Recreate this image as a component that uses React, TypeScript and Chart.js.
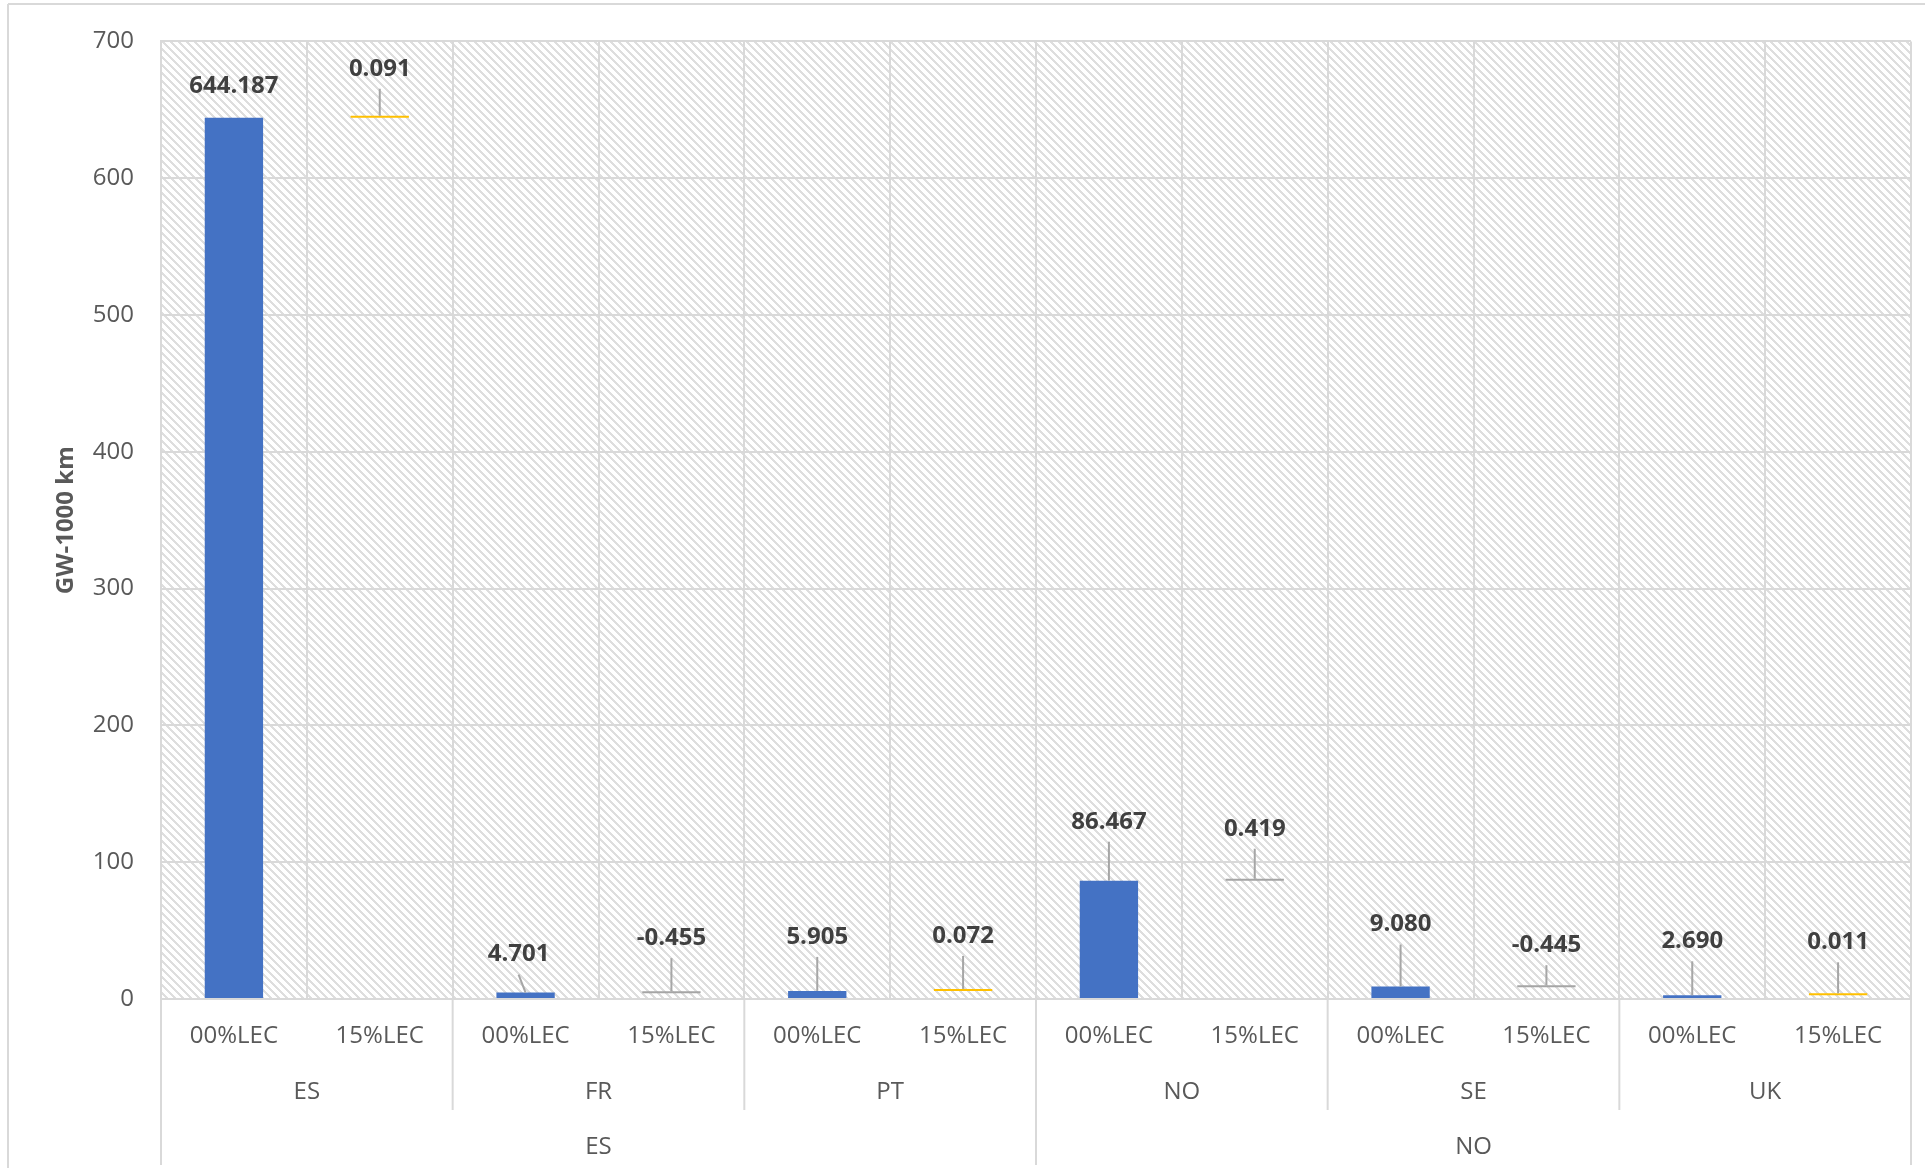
import React, { useEffect, useRef } from 'react';
import { Chart, registerables } from 'chart.js';

Chart.register(...registerables);

// ---- data ----
const scenarios = ['00%LEC', '15%LEC'];
const countries = ['ES', 'FR', 'PT', 'NO', 'SE', 'UK'];
const groups = ['ES', 'NO'];
const countriesPerGroup = [3, 3];
const lec00 = [644.187, 4.701, 5.905, 86.467, 9.08, 2.69];
const lec15Delta = [0.091, -0.455, 0.072, 0.419, -0.445, 0.011];
const yMin = 0;
const yMax = 700;
const yStep = 100;
const yTitle = 'GW-1000 km';

// styling of the 15%LEC delta marks as seen in the picture
const deltaColors = ['#FFC000', '#A5A5A5', '#FFC000', '#A5A5A5', '#A5A5A5', '#FFC000'];

// label placement (pixels above the bar top), per leaf
const labelLift = [32, 47, 38, 53, 54, 53, 59, 50, 62, 40, 54, 51];
const labelShiftX = [0, 0, -7, 0, 0, 0, 0, 0, 0, 0, 0, 0];

const BLUE = '#4472C4';
const GRID = '#D9D9D9';
const TEXT = '#595959';
const LABEL = '#404040';
const FONT = '"Open Sans", "Noto Sans", sans-serif';

const leafLabels: string[] = [];
const barData: [number, number][] = [];
const barColors: string[] = [];
const labelValues: number[] = [];
countries.forEach((c, i) => {
  leafLabels.push(scenarios[0]);
  barData.push([0, lec00[i]]);
  barColors.push(BLUE);
  labelValues.push(lec00[i]);
  leafLabels.push(scenarios[1]);
  barData.push([lec00[i], lec00[i] + lec15Delta[i]]);
  barColors.push(deltaColors[i]);
  labelValues.push(lec15Delta[i]);
});

function makeHatch(ctx: CanvasRenderingContext2D) {
  const c = document.createElement('canvas');
  c.width = 8;
  c.height = 8;
  const g = c.getContext('2d')!;
  g.fillStyle = '#ffffff';
  g.fillRect(0, 0, 8, 8);
  g.fillStyle = '#DEDEDE';
  for (let y = 0; y < 8; y++) {
    for (let x = 0; x < 8; x++) {
      if ((((x - y) % 8) + 8) % 8 < 3) g.fillRect(x, y, 1, 1);
    }
  }
  return ctx.createPattern(c, 'repeat');
}

const customPlugin = {
  id: 'customDraw',
  beforeDraw(chart: any) {
    const { ctx, chartArea } = chart;
    ctx.save();
    ctx.fillStyle = '#ffffff';
    ctx.fillRect(0, 0, chart.width, chart.height);
    const pat = makeHatch(ctx);
    if (pat) {
      ctx.fillStyle = pat;
      ctx.fillRect(chartArea.left, chartArea.top, chartArea.right - chartArea.left, chartArea.bottom - chartArea.top);
    }
    // outer border (top / left)
    ctx.strokeStyle = GRID;
    ctx.lineWidth = 2;
    ctx.beginPath();
    ctx.moveTo(8, 4);
    ctx.lineTo(1925, 4);
    ctx.moveTo(8, 4);
    ctx.lineTo(8, 1168);
    ctx.stroke();
    ctx.restore();
  },
  afterDraw(chart: any) {
    const { ctx, chartArea } = chart;
    const xs = chart.scales.x;
    const n = leafLabels.length;
    const w = (chartArea.right - chartArea.left) / n;
    const bottom = chartArea.bottom;
    ctx.save();

    // category separators below the axis
    ctx.strokeStyle = GRID;
    ctx.lineWidth = 2;
    const groupBounds = new Set<number>();
    let acc = 0;
    groupBounds.add(0);
    countriesPerGroup.forEach((g) => {
      acc += g * 2;
      groupBounds.add(acc);
    });
    for (let k = 0; k <= n; k += 2) {
      const x = chartArea.left + k * w;
      const yEnd = groupBounds.has(k) ? bottom + 166 : bottom + 111;
      ctx.beginPath();
      ctx.moveTo(x, bottom);
      ctx.lineTo(x, yEnd);
      ctx.stroke();
    }

    // level-1 labels
    ctx.fillStyle = TEXT;
    ctx.font = `24px ${FONT}`;
    ctx.textAlign = 'center';
    ctx.textBaseline = 'middle';
    leafLabels.forEach((l, i) => {
      ctx.fillText(l, xs.getPixelForValue(i), bottom + 37);
    });
    // level-2 labels
    countries.forEach((c, i) => {
      const x = chartArea.left + (2 * i + 1) * w;
      ctx.fillText(c, x, bottom + 93);
    });
    // level-3 labels
    let start = 0;
    groups.forEach((g, gi) => {
      const span = countriesPerGroup[gi] * 2;
      const x = chartArea.left + (start + span / 2) * w;
      ctx.fillText(g, x, bottom + 148);
      start += span;
    });

    // y title
    ctx.save();
    ctx.translate(66, (chartArea.top + chartArea.bottom) / 2);
    ctx.rotate(-Math.PI / 2);
    ctx.font = `bold 24px ${FONT}`;
    ctx.fillStyle = TEXT;
    ctx.fillText(yTitle, 0, 0);
    ctx.restore();

    // data labels with leader lines
    const meta = chart.getDatasetMeta(0);
    ctx.font = `bold 24px ${FONT}`;
    meta.data.forEach((el: any, i: number) => {
      const top = Math.min(el.y, el.base);
      const cy = top - labelLift[i];
      const cx = el.x + labelShiftX[i];
      const lineStart = cy + 20;
      if (top - lineStart > 15) {
        ctx.strokeStyle = '#A6A6A6';
        ctx.lineWidth = 2;
        ctx.beginPath();
        ctx.moveTo(cx, lineStart);
        ctx.lineTo(el.x, top);
        ctx.stroke();
      }
      ctx.fillStyle = LABEL;
      ctx.fillText(labelValues[i].toFixed(3), cx, cy);
    });
    ctx.restore();
  },
};

export default function App() {
  const ref = useRef<HTMLCanvasElement>(null);
  useEffect(() => {
    if (!ref.current) return;
    const chart = new Chart(ref.current, {
      type: 'bar',
      data: {
        labels: leafLabels,
        datasets: [
          {
            data: barData as any,
            backgroundColor: barColors,
            borderWidth: 0,
            minBarLength: 2,
            barPercentage: 0.4,
            categoryPercentage: 1,
          },
        ],
      },
      options: {
        responsive: false,
        animation: false,
        devicePixelRatio: 1,
        layout: { padding: { top: 38, right: 16, left: 0, bottom: 0 } },
        plugins: {
          legend: { display: false },
          tooltip: { enabled: false },
        },
        scales: {
          x: {
            type: 'category',
            offset: true,
            ticks: { display: false },
            grid: { color: GRID, lineWidth: 2, drawTicks: false, offset: true },
            border: { color: GRID, width: 2 },
            afterFit: (s: any) => {
              s.height = 173;
            },
          },
          y: {
            min: yMin,
            max: yMax,
            ticks: {
              stepSize: yStep,
              color: TEXT,
              font: { family: FONT, size: 24 },
              padding: 27,
            },
            grid: { color: GRID, lineWidth: 2, drawTicks: false },
            border: { color: GRID, width: 2 },
            afterFit: (s: any) => {
              s.width = 161;
            },
          },
        },
      },
      plugins: [customPlugin],
    });
    return () => chart.destroy();
  }, []);
  return (
    <div style={{ position: 'fixed', left: 0, top: 0, width: 1927, height: 1172 }}>
      <canvas ref={ref} width={1927} height={1172} style={{ display: 'block' }} />
    </div>
  );
}
